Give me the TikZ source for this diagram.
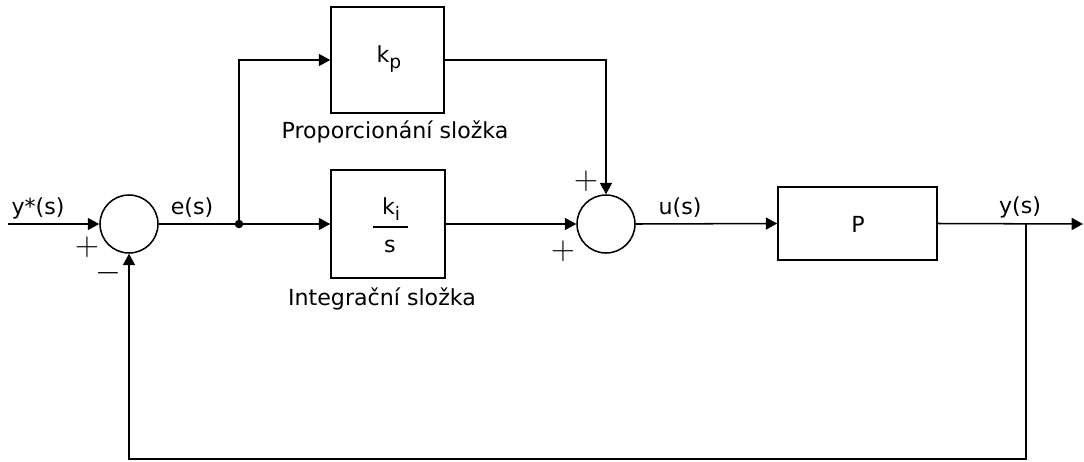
\documentclass[tikz,border=0pt]{standalone}
\usepackage{fontspec}
\setmainfont{DejaVu Sans}
\usetikzlibrary{arrows.meta}
\begin{document}
\begin{tikzpicture}[x=0.75pt,y=-0.75pt, line width=1.15pt,
 arr/.style={-{Triangle[length=8.5pt,width=9pt]}},
 blk/.style={draw, inner sep=0pt},
 sumc/.style={draw, circle, minimum size=43.5pt, inner sep=0pt},
 lbl/.style={font=\fontsize{16.6}{19}\selectfont, inner sep=0pt},
 sgn/.style={font=\fontsize{27}{27}\selectfont, inner sep=0pt}]
\useasboundingbox (0,0) rectangle (1084,461);
% nodes
\node[sumc] (s1) at (129,224) {};
\node[sumc] (s2) at (606,224) {};
\node[blk, minimum width=84.75pt, minimum height=79.5pt] (kp) at (387.5,60) {};
\node[blk, minimum width=85.5pt, minimum height=81pt] (ki) at (388,224) {};
\node[blk, minimum width=119.25pt, minimum height=54.75pt] (P) at (857.5,223.5) {};
\coordinate (in) at (8,224);
\coordinate (j) at (239,224);
\coordinate (out) at (1083,224);
\coordinate (tap) at (1026,224);
\coordinate (fbR) at (1026,459);
\coordinate (fbL) at (129,459);
\coordinate (jUp) at (239,60);
\coordinate (kpR) at (606,60);
% block contents
\node[lbl] (kptext) at (389,59) {k\raisebox{-5pt}{\fontsize{14}{14}\selectfont p}};
\node[lbl] (kinum) at (391,209) {k\raisebox{-5pt}{\fontsize{14}{14}\selectfont i}};
\node[lbl] (kiden) at (390,246) {s};
\draw (373,227) -- (408,227);
\node[lbl] (Ptext) at (858,224) {P};
% captions
\node[lbl] (cap1) at (395,132) {Proporcionání složka};
\node[lbl] (cap2) at (382,299) {Integrační složka};
% signal labels
\node[lbl] (lys) at (38,208) {y*(s)};
\node[lbl] (les) at (192,208) {e(s)};
\node[lbl] (lus) at (680,208) {u(s)};
\node[lbl] (lyo) at (1020,207) {y(s)};
% signs
\node[sgn] (p1) at (87,247) {$+$};
\node[sgn] (m1) at (108,273) {$-$};
\node[sgn] (p2) at (586,181) {$+$};
\node[sgn] (p3) at (563,251) {$+$};
% connectors
\draw[arr] (in) -- (s1.west);
\draw (s1.east) -- (j);
\draw[arr] (j) -- (ki.west);
\draw[arr] (j) -- (jUp) -- (kp.west);
\draw[arr] (kp.east) -- (kpR) -- (s2.north);
\draw[arr] (ki.east) -- (s2.west);
\draw[arr] (s2.east) -- (P.west);
\draw[arr] (P.east) -- (out);
\draw[arr] (tap) -- (fbR) -- (fbL) -- (s1.south);
\fill (j) circle (3.2pt);
\end{tikzpicture}
\end{document}
